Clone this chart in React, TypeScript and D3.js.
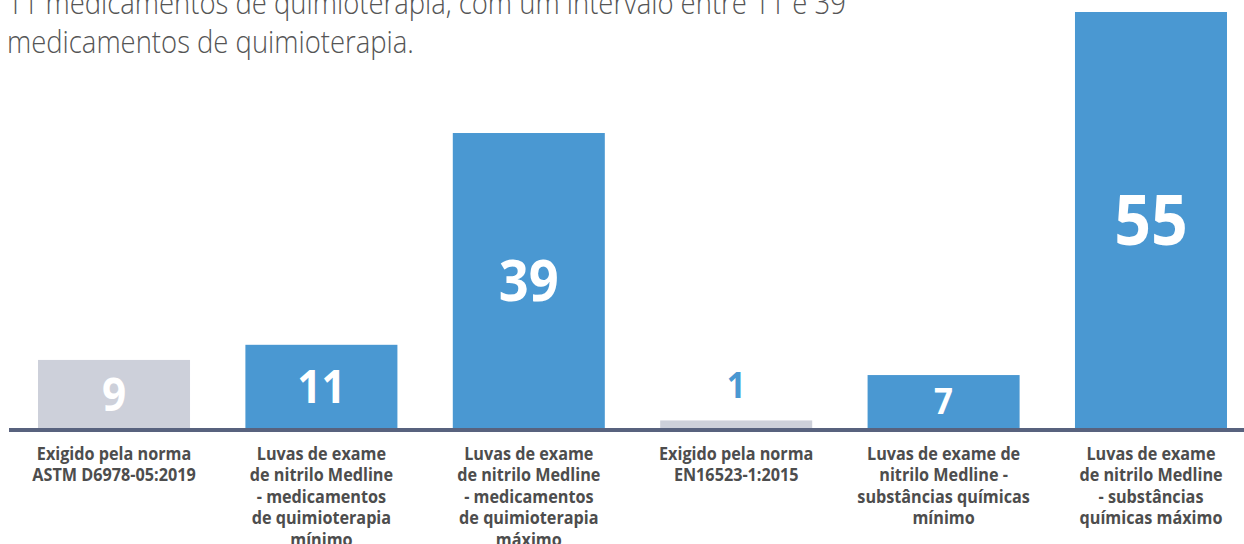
import React from "react";
import * as d3 from "d3";

// chart data
const categories = [
  ["Exigido pela norma", "ASTM D6978-05:2019"],
  ["Luvas de exame", "de nitrilo Medline", "- medicamentos", "de quimioterapia", "mínimo"],
  ["Luvas de exame", "de nitrilo Medline", "- medicamentos", "de quimioterapia", "máximo"],
  ["Exigido pela norma", "EN16523-1:2015"],
  ["Luvas de exame de", "nitrilo Medline -", "substâncias químicas", "mínimo"],
  ["Luvas de exame", "de nitrilo Medline", "- substâncias", "químicas máximo"],
];
const values = [9, 11, 39, 1, 7, 55];
const groups = ["norma", "medline", "medline", "norma", "medline", "medline"];
const titleLines = [
  "11 medicamentos de quimioterapia, com um intervalo entre 11 e 39",
  "medicamentos de quimioterapia.",
];

const W = 1244;
const H = 544;
const base = 428;
const font = "'Open Sans', sans-serif";

export default function App() {
  const ids = values.map((_, i) => String(i));
  const x = d3.scaleBand<string>().domain(ids).range([38, 1227]).paddingInner(0.267).paddingOuter(0);
  const y = d3.scaleLinear().domain([0, 55]).range([base, 12]);
  const color = d3.scaleOrdinal<string>().domain(["norma", "medline"]).range(["#cdd0da", "#4a98d2"]);
  // value label size grows with the bar
  const fontSize = d3.scaleLinear().domain([7, 9, 11, 39, 55]).range([36, 46, 46, 57, 70]).clamp(true);

  return (
    <svg width={W} height={H} style={{ position: "absolute", left: 0, top: 0 }}>
      {/* semi-condensed look: squeeze the normal width font a bit */}
      <g fill="#555" fontFamily={font} fontWeight={300} fontSize={31} transform="translate(7,0) scale(0.885,1)">
        {titleLines.map((t, i) => (
          <text key={i} x={0} y={14 + i * 39}>{t}</text>
        ))}
      </g>

      {values.map((v, i) => {
        const bx = x(String(i))!;
        const bw = x.bandwidth();
        const cx = bx + bw / 2;
        const top = y(v);
        const h = base - top;
        const inside = h > 40;
        const fs = fontSize(v);
        const ty = inside ? (top + base) / 2 : top - 22;
        return (
          <g key={i}>
            <rect x={bx} y={top} width={bw} height={h} fill={color(groups[i])} />
            <text
              transform={`translate(${cx},${ty}) scale(0.92,1)`}
              dy={inside ? "0.36em" : 0}
              textAnchor="middle"
              fill={inside ? "#fff" : "#4a98d2"}
              fontFamily={font}
              fontWeight={700}
              fontSize={fs}
            >
              {v}
            </text>
            <text
              transform={`translate(${cx},0) scale(0.9,1)`}
              textAnchor="middle"
              fill="#4d4d4d"
              fontFamily={font}
              fontWeight={700}
              fontSize={18}
            >
              {categories[i].map((line, j) => (
                <tspan key={j} x={0} y={460 + j * 21.5}>{line}</tspan>
              ))}
            </text>
          </g>
        );
      })}

      <rect x={9} y={base} width={W - 9} height={4} fill="#58627e" />
    </svg>
  );
}
